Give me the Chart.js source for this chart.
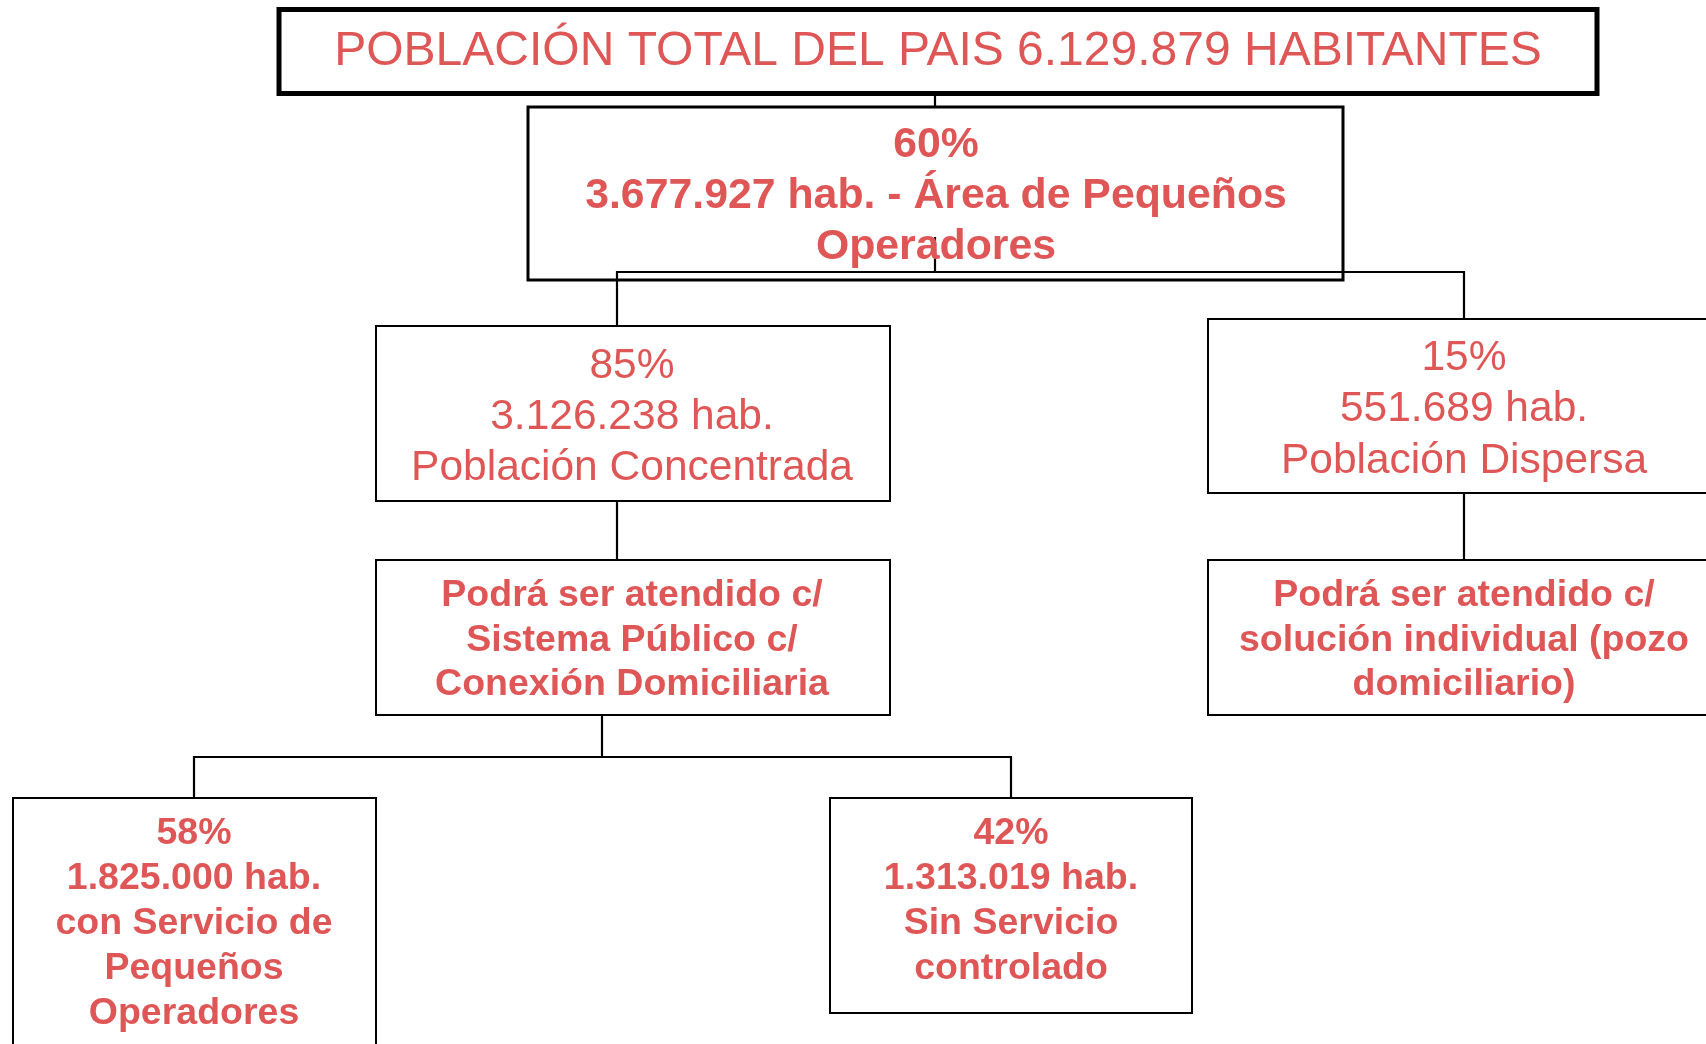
<!DOCTYPE html>
<html>
<head>
<meta charset="utf-8">
<script src="https://cdn.jsdelivr.net/npm/chart.js@4/dist/chart.umd.min.js"></script>
<style>
  html, body { margin: 0; padding: 0; background: #ffffff; }
  #wrap { width: 1706px; height: 1044px; position: relative; }
</style>
</head>
<body>
<div id="wrap"><canvas id="c"></canvas></div>
<script>
// ---------------- DATA ----------------
const nodeIds       = ['total', 'pequenos', 'concentrada', 'dispersa', 'sistema', 'pozo', 'conServicio', 'sinServicio'];
const nodeParent    = [null, 0, 1, 1, 2, 3, 4, 4];
const nodePercent   = [null, 60, 85, 15, null, null, 58, 42];
const nodeHabitants = [6129879, 3677927, 3126238, 551689, null, null, 1825000, 1313019];
const nodeText = [
  ['POBLACIÓN TOTAL DEL PAIS {hab} HABITANTES'],
  ['{pct}', '{hab} hab. - Área de Pequeños', 'Operadores'],
  ['{pct}', '{hab} hab.', 'Población Concentrada'],
  ['{pct}', '{hab} hab.', 'Población Dispersa'],
  ['Podrá ser atendido c/', 'Sistema Público c/', 'Conexión Domiciliaria'],
  ['Podrá ser atendido c/', 'solución individual (pozo', 'domiciliario)'],
  ['{pct}', '{hab} hab.', 'con Servicio de', 'Pequeños', 'Operadores'],
  ['{pct}', '{hab} hab.', 'Sin Servicio', 'controlado']
];

// ---------------- LAYOUT (chart units = canvas px) ----------------
const W = 1706, H = 1044;
const boxLayout = [
  { l: 279,  t: 9.5, r: 1597, b: 93.5, lw: 5 },
  { l: 528,  t: 107, r: 1343, b: 280,  lw: 3 },
  { l: 376,  t: 326, r: 890,  b: 501,  lw: 2 },
  { l: 1208, t: 319, r: 1723, b: 493,  lw: 2 },
  { l: 376,  t: 560, r: 890,  b: 715,  lw: 2 },
  { l: 1208, t: 560, r: 1723, b: 715,  lw: 2 },
  { l: 13,   t: 798, r: 376,  b: 1064, lw: 2 },
  { l: 830,  t: 798, r: 1192, b: 1013, lw: 2 }
];
const textLayout = [
  { cx: 938,  y0: 52,  gap: 0,    size: 48,   weight: 'normal' },
  { cx: 936,  y0: 145, gap: 51,   size: 42.8, weight: 'bold' },
  { cx: 632,  y0: 366, gap: 51,   size: 42.5, weight: 'normal' },
  { cx: 1464, y0: 358, gap: 51.5, size: 42.5, weight: 'normal' },
  { cx: 632,  y0: 596, gap: 44.5, size: 37.5, weight: 'bold' },
  { cx: 1464, y0: 596, gap: 44.5, size: 37.5, weight: 'bold' },
  { cx: 194,  y0: 834, gap: 45,   size: 37.5, weight: 'bold' },
  { cx: 1011, y0: 834, gap: 45,   size: 37.5, weight: 'bold' }
];
const linkLayout = [
  [[935, 93], [935, 107]],
  [[935, 237], [935, 272]],
  [[617, 326], [617, 272], [1464, 272], [1464, 319]],
  [[617, 501], [617, 560]],
  [[1464, 493], [1464, 560]],
  [[602, 715], [602, 757]],
  [[194, 798], [194, 757], [1011, 757], [1011, 798]]
];
const TEXT_COLOR = '#df5656';
const LINE_COLOR = '#000000';
const FONT = '"Liberation Sans", Arial, Helvetica, sans-serif';

function fmtNum(n) {
  return String(n).replace(/\B(?=(\d{3})+(?!\d))/g, '.');
}
function linesFor(i) {
  return nodeText[i].map(s => s
    .replace('{pct}', nodePercent[i] != null ? nodePercent[i] + '%' : '')
    .replace('{hab}', nodeHabitants[i] != null ? fmtNum(nodeHabitants[i]) : ''));
}

// ---------------- DATASETS ----------------
const datasets = [];
linkLayout.forEach(pts => {
  datasets.push({
    data: pts.map(p => ({ x: p[0], y: p[1] })),
    showLine: true, borderColor: LINE_COLOR, borderWidth: 2.2,
    pointRadius: 0, pointHoverRadius: 0, fill: false, tension: 0,
    borderCapStyle: 'butt', borderJoinStyle: 'miter'
  });
});
boxLayout.forEach(b => {
  datasets.push({
    data: [{x: b.l, y: b.t}, {x: b.r, y: b.t}, {x: b.r, y: b.b}, {x: b.l, y: b.b}, {x: b.l, y: b.t}],
    showLine: true, borderColor: LINE_COLOR, borderWidth: b.lw,
    pointRadius: 0, pointHoverRadius: 0, fill: false, tension: 0,
    borderCapStyle: 'square', borderJoinStyle: 'miter'
  });
});

const textPlugin = {
  id: 'nodeText',
  afterDatasetsDraw(chart) {
    const ctx = chart.ctx;
    const xs = chart.scales.x, ys = chart.scales.y;
    ctx.save();
    ctx.fillStyle = TEXT_COLOR;
    ctx.textAlign = 'center';
    ctx.textBaseline = 'middle';
    nodeIds.forEach((id, i) => {
      const t = textLayout[i];
      ctx.font = t.weight + ' ' + t.size + 'px ' + FONT;
      linesFor(i).forEach((line, k) => {
        ctx.fillText(line, xs.getPixelForValue(t.cx), ys.getPixelForValue(t.y0 + k * t.gap));
      });
    });
    ctx.restore();
  }
};

new Chart(document.getElementById('c'), {
  type: 'scatter',
  data: { datasets },
  options: {
    responsive: true,
    maintainAspectRatio: false,
    animation: false,
    layout: { padding: 0 },
    plugins: { legend: { display: false }, tooltip: { enabled: false } },
    events: [],
    scales: {
      x: { type: 'linear', min: 0, max: W, display: false },
      y: { type: 'linear', min: 0, max: H, reverse: true, display: false }
    }
  },
  plugins: [textPlugin]
});
</script>
</body>
</html>
